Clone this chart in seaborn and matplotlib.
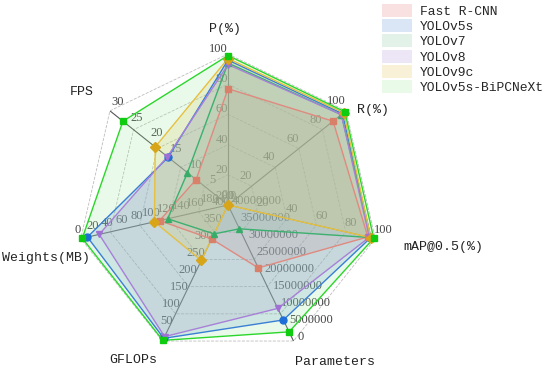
import numpy as np
import matplotlib
matplotlib.use("Agg")
import matplotlib.pyplot as plt
from matplotlib.patches import Patch
import seaborn as sns

# data
models = ["Fast R-CNN", "YOLOv5s", "YOLOv7", "YOLOv8", "YOLOv9c", "YOLOv5s-BiPCNeXt"]
precision = [77, 96, 94, 93, 97, 99]
recall = [89, 97, 96, 96, 98, 99]
map50 = [95, 97, 97, 96, 97, 99]
params = [21.5e6, 6.2e6, 33.0e6, 9.6e6, 40.0e6, 2.7e6]
gflops = [300, 8, 315, 13, 237, 2]
weights = [107, 9, 118, 25, 100, 2]
fps = [8.1, 15.2, 10.3, 15.4, 18.5, 26.7]

axis_names = ["P(%)", "R(%)", "mAP@0.5(%)", "Parameters", "GFLOPs", "Weights(MB)", "FPS"]
axis_max = [100, 100, 100, 40000000, 400, 200, 30]
axis_step = [20, 20, 20, 5000000, 50, 20, 5]
axis_inverted = [False, False, False, True, True, True, False]

line_colors = ["#e08a80", "#3a7fd5", "#3cb06e", "#a880d8", "#e6c040", "#2bd62b"]
fill_colors = ["#e87a7a", "#5a8cd2", "#7cc79a", "#b08fd8", "#e8bf50", "#9cec9c"]
marker_colors = ["#d9806a", "#1f6fd8", "#35ad68", "#a070d4", "#d8a418", "#10cc10"]
markers = ["s", "o", "^", "v", "D", "s"]

sns.set_theme(style="white")
plt.rcParams["font.family"] = ["Liberation Serif", "DejaVu Sans"]

n = len(axis_names)
theta = np.linspace(0, 2 * np.pi, n, endpoint=False)


def norm(vals, k):
    r = np.array(vals, dtype=float) / axis_max[k]
    return 1 - r if axis_inverted[k] else r


table = [precision, recall, map50, params, gflops, weights, fps]
radii = np.array([norm(table[k], k) for k in range(n)])  # shape (axes, models)

fig = plt.figure(figsize=(5.5, 3.72), dpi=100)
ax = fig.add_axes([77 / 550, 16 / 372, 302 / 550, 302 / 372], projection="polar")
ax.set_theta_offset(np.pi / 2)
ax.set_theta_direction(-1)
ax.set_ylim(0, 1)
ax.set_xticks([])
ax.set_yticks([])
ax.grid(False)
ax.spines["polar"].set_visible(False)
ax.set_facecolor("none")

closed = np.append(theta, theta[0])

# polygon grid + spokes
for lvl in [0.2, 0.4, 0.6, 0.8, 1.0]:
    ax.plot(closed, [lvl] * (n + 1), ls="--", lw=0.6, color="#bdbdbd", zorder=1)
for t in theta:
    ax.plot([t, t], [0, 1], color="#555555", lw=0.8, zorder=2)

# per-axis tick labels (the ones at the centre overlap, as in the original)
offsets = [((0, -1), "right", "bottom"),
           ((0, 4), "right", "bottom"),
           ((-1, 3), "left", "bottom"),
           ((4, 4), "left", "center"),
           ((2, 3), "right", "center"),
           ((-3, 3), "center", "bottom"),
           ((1, 3), "left", "bottom")]
for k in range(n):
    ticks = np.arange(0, axis_max[k] + axis_step[k] / 2, axis_step[k])
    (dx, dy), ha, va = offsets[k]
    for v in ticks:
        r = 1 - v / axis_max[k] if axis_inverted[k] else v / axis_max[k]
        ax.annotate(f"{int(v)}", xy=(theta[k], r), xytext=(dx, dy),
                    textcoords="offset pixels", ha=ha, va=va,
                    fontsize=9, color="#444444", zorder=3)

# series
for i, m in enumerate(models):
    r = np.append(radii[:, i], radii[0, i])
    ax.fill(closed, r, color=fill_colors[i], alpha=0.21, lw=0, zorder=4)
for i, m in enumerate(models):
    r = np.append(radii[:, i], radii[0, i])
    ax.plot(closed, r, color=line_colors[i], lw=1.0, zorder=5, clip_on=False)
    ax.plot(theta, radii[:, i], ls="none", marker=markers[i], ms=5,
            color=marker_colors[i], zorder=6, clip_on=False)

# axis titles
title_pos = [(225, 29), (373, 110), (443, 247), (335, 362), (133, 360), (46, 258), (82, 92)]
for name, (px, py) in zip(axis_names, title_pos):
    fig.text(px / 550, 1 - py / 372, name, ha="center", va="center",
             fontsize=9.5, family=["Liberation Mono", "DejaVu Sans"], color="#222222")

handles = [Patch(facecolor=c, alpha=0.22, edgecolor="none") for c in fill_colors]
fig.legend(handles, models, loc="upper left", bbox_to_anchor=(382 / 550, 1 - 4 / 372),
           frameon=False, borderpad=0, borderaxespad=0, handlelength=2.3,
           handleheight=1.15, handletextpad=0.6, labelspacing=0.1,
           prop={"family": ["Liberation Mono", "DejaVu Sans"], "size": 9.4})

fig.savefig("out.png", dpi=100)
